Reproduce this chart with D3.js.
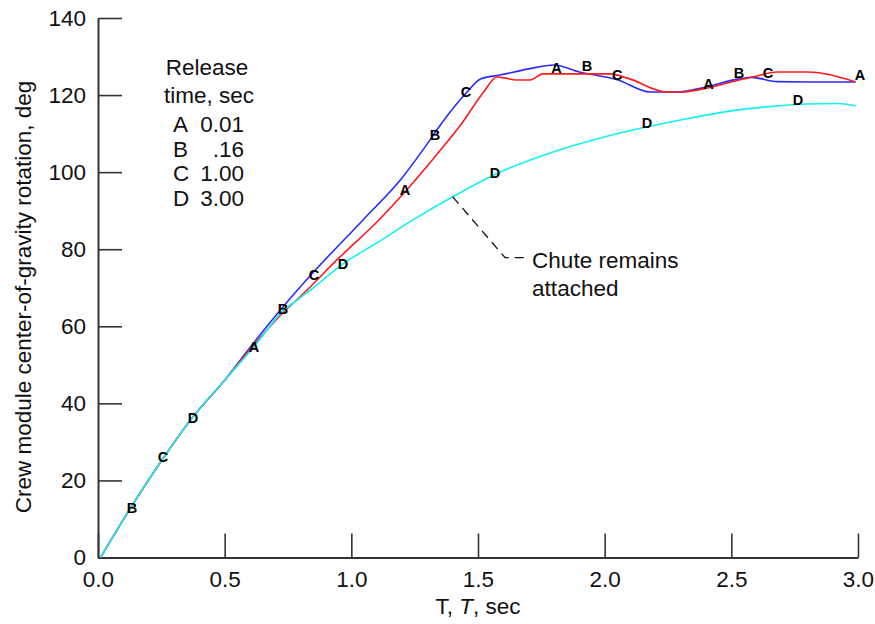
<!DOCTYPE html>
<html>
<head>
<meta charset="utf-8">
<script src="https://cdn.jsdelivr.net/npm/d3@7"></script>
<style>
  html, body { margin: 0; padding: 0; background: #fff; }
  svg { display: block; font-family: "Liberation Sans", Arial, sans-serif; }
</style>
</head>
<body>
<svg id="chart" width="875" height="624"></svg>
<script>
// Release-time legend
const releaseLetters = ["A", "B", "C", "D"];
const releaseTimes = ["0.01", ".16", "1.00", "3.00"];

// Curve A (red): release at 0.01 s
const tA = [0.01, 0.13, 0.26, 0.375, 0.5, 0.62, 0.73, 0.8, 0.955, 1.1, 1.22, 1.33, 1.44, 1.52, 1.575, 1.61, 1.65, 1.705, 1.757, 1.9, 2.02, 2.09, 2.246, 2.3, 2.39, 2.53, 2.585, 2.68, 2.8, 2.99];
const rotA = [0, 13, 26, 36.5, 46, 55.5, 63.5, 67.8, 78, 87, 95.5, 104, 113, 120.6, 124.7, 124.4, 123.9, 123.9, 125.5, 125.5, 125.5, 124.4, 120.8, 120.8, 121.6, 123.9, 124.7, 126, 126, 123.4];

// Curve B/C (blue): release at 0.16 s and 1.00 s
const tB = [0.01, 0.13, 0.26, 0.375, 0.5, 0.6, 0.73, 0.85, 1.046, 1.2, 1.31, 1.36, 1.457, 1.51, 1.587, 1.7, 1.8, 1.9, 2.05, 2.18, 2.285, 2.4, 2.53, 2.58, 2.68, 2.85, 2.99];
const rotB = [0, 13, 26, 36.5, 46, 54.5, 65, 74, 87.6, 98.5, 108.3, 113, 120.8, 124.2, 125.2, 126.8, 127.8, 126, 124, 120.8, 120.8, 122.1, 124.2, 124.6, 123.5, 123.4, 123.4];

// Curve D (cyan): chute remains attached
const tD = [0.01, 0.13, 0.26, 0.375, 0.5, 0.62, 0.73, 0.79, 0.85, 0.967, 1.1, 1.243, 1.4, 1.567, 1.75, 1.98, 2.15, 2.35, 2.5, 2.65, 2.8, 2.92, 2.99];
const rotD = [0, 13, 26, 36.5, 46, 55, 64, 67, 70, 76.2, 81.6, 87.6, 93.6, 99.4, 104.2, 108.8, 111.5, 114.2, 115.9, 117.0, 117.7, 117.8, 117.2];

// Curve identification letters along the traces
const markerLetters = ["B", "C", "D", "A", "B", "C", "D", "A", "B", "C", "D", "A", "B", "C", "D", "A", "B", "C", "D", "A"];
const markerT = [0.134, 0.257, 0.375, 0.616, 0.73, 0.853, 0.967, 1.212, 1.33, 1.453, 1.567, 1.81, 1.93, 2.05, 2.167, 2.41, 2.53, 2.645, 2.763, 3.008];
const markerV = [13, 26.2, 36.3, 54.7, 64.6, 73.4, 76.2, 95.4, 109.7, 120.8, 99.8, 127, 127.6, 125.2, 112.8, 122.9, 125.7, 125.7, 118.7, 125.2];

// Leader line for the attached-chute note
const noteT = [1.40, 1.607, 1.686];
const noteV = [93.6, 77.8, 77.8];
const noteLines = ["Chute remains", "attached"];

// Axis ticks
const xTicks = [0, 0.5, 1.0, 1.5, 2.0, 2.5, 3.0];
const yTicks = [0, 20, 40, 60, 80, 100, 120, 140];

const svg = d3.select("#chart");
const x = d3.scaleLinear().domain([0, 3]).range([98, 858]);
const y = d3.scaleLinear().domain([0, 140]).range([557.5, 18]);

const axisColor = "#333";
const fontSize = 22.5;

// X axis, ticks pointing inward
const gx = svg.append("g")
  .attr("transform", `translate(0,${y(0)})`)
  .call(d3.axisBottom(x).tickValues(xTicks).tickFormat(d3.format(".1f"))
    .tickSizeInner(-24).tickSizeOuter(0).tickPadding(14));
gx.select(".domain").attr("stroke", axisColor).attr("stroke-width", 2);
gx.selectAll(".tick line").attr("stroke", axisColor).attr("stroke-width", 1.6);
gx.selectAll(".tick text").attr("font-size", fontSize).attr("fill", "#111")
  .attr("font-family", "Liberation Sans, Arial, sans-serif");

// Y axis, ticks pointing inward
const gy = svg.append("g")
  .attr("transform", `translate(${x(0)},0)`)
  .call(d3.axisLeft(y).tickValues(yTicks).tickFormat(d3.format("d"))
    .tickSizeInner(-24).tickSizeOuter(0).tickPadding(12));
gy.select(".domain").attr("stroke", axisColor).attr("stroke-width", 2);
gy.selectAll(".tick line").attr("stroke", axisColor).attr("stroke-width", 1.6);
gy.selectAll(".tick text").attr("font-size", fontSize).attr("fill", "#111")
  .attr("font-family", "Liberation Sans, Arial, sans-serif");

// Axis titles
const xTitle = svg.append("text")
  .attr("x", 478).attr("y", 614)
  .attr("text-anchor", "middle").attr("font-size", fontSize).attr("fill", "#111");
xTitle.append("tspan").text("T, ");
xTitle.append("tspan").attr("font-style", "italic").text("T");
xTitle.append("tspan").text(", sec");

svg.append("text")
  .attr("transform", "translate(31,297) rotate(-90)")
  .attr("text-anchor", "middle").attr("font-size", fontSize).attr("fill", "#111")
  .text("Crew module center-of-gravity rotation, deg");

// Curves
const line = d3.line().x(d => x(d[0])).y(d => y(d[1])).curve(d3.curveMonotoneX);
const series = [
  { t: tB, v: rotB, color: "#2b2bff" },
  { t: tA, v: rotA, color: "#ff1a1a" },
  { t: tD, v: rotD, color: "#11f2f2" }
];
series.forEach(s => {
  svg.append("path")
    .datum(s.t.map((t, i) => [t, s.v[i]]))
    .attr("d", line)
    .attr("fill", "none")
    .attr("stroke", s.color)
    .attr("stroke-width", 1.6)
    .attr("stroke-linejoin", "round");
});

// Letter markers
svg.append("g").selectAll("text")
  .data(markerLetters.map((l, i) => ({ l, t: markerT[i], v: markerV[i] })))
  .join("text")
  .attr("x", d => x(d.t)).attr("y", d => y(d.v))
  .attr("dy", "0.36em")
  .attr("text-anchor", "middle")
  .attr("font-size", 14.5).attr("font-weight", "bold").attr("fill", "#000")
  .text(d => d.l);

// Leader line and note
const noteLine = d3.line().x(d => x(d[0])).y(d => y(d[1]));
const notePts = noteT.map((t, i) => [t, noteV[i]]);
svg.append("path")
  .datum(notePts)
  .attr("d", noteLine)
  .attr("fill", "none").attr("stroke", "#111").attr("stroke-width", 1.3)
  .attr("stroke-dasharray", "9,6");
const noteEnd = notePts[notePts.length - 1];
noteLines.forEach((s, i) => {
  svg.append("text")
    .attr("x", x(noteEnd[0]) + 7)
    .attr("y", y(noteEnd[1]) + 10 + i * 28)
    .attr("font-size", fontSize).attr("fill", "#111")
    .text(s);
});

// Legend block
const lg = svg.append("g").attr("font-size", fontSize).attr("fill", "#111");
lg.append("text").attr("x", 207).attr("y", 75).attr("text-anchor", "middle").text("Release");
lg.append("text").attr("x", 209).attr("y", 103).attr("text-anchor", "middle").text("time, sec");
releaseLetters.forEach((l, i) => {
  const yy = 132 + i * 24.7;
  lg.append("text").attr("x", 173).attr("y", yy).text(l);
  lg.append("text").attr("x", 244).attr("y", yy).attr("text-anchor", "end").text(releaseTimes[i]);
});
</script>
</body>
</html>
